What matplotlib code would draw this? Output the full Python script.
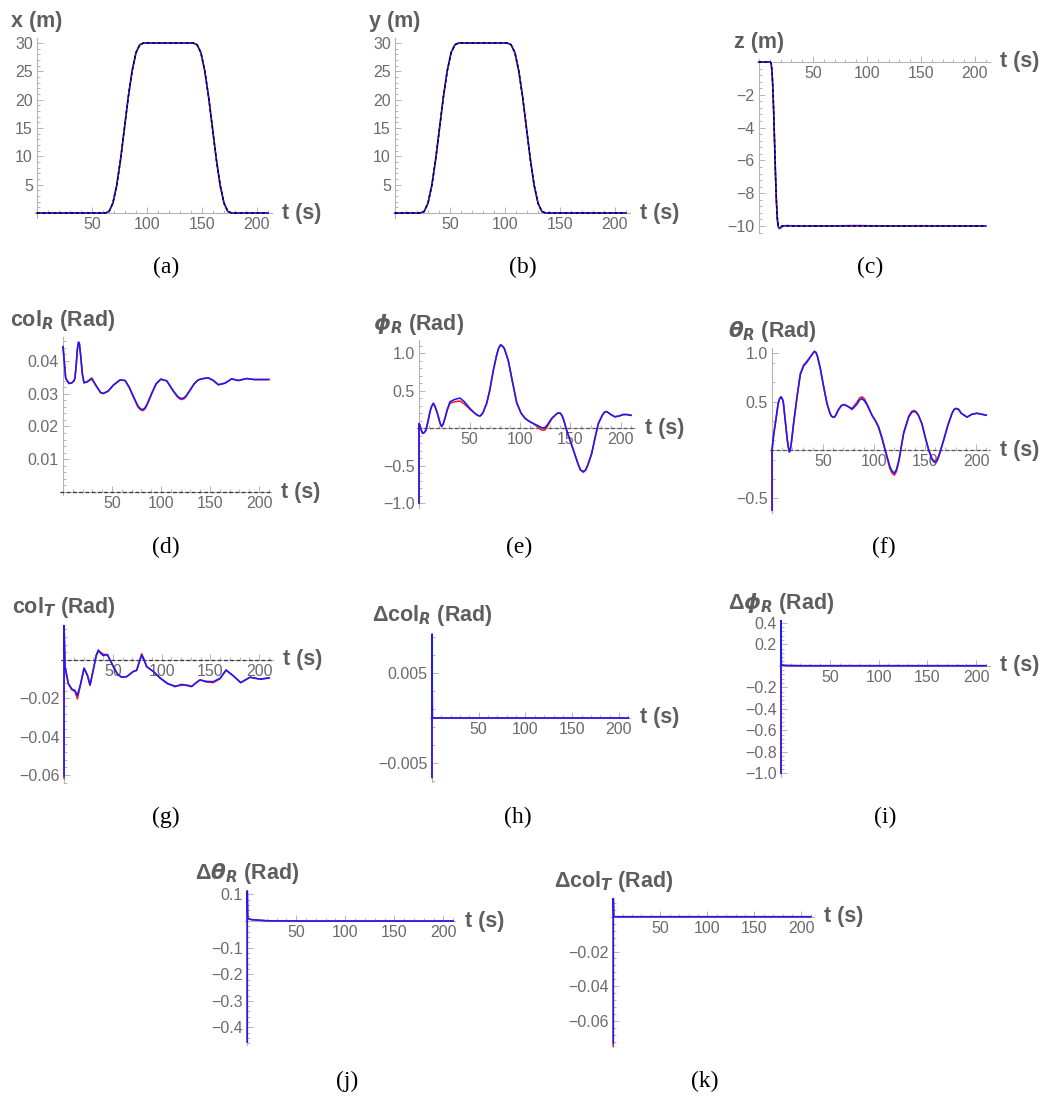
import matplotlib
matplotlib.use("Agg")
import matplotlib.pyplot as plt
from matplotlib.ticker import FixedLocator, AutoMinorLocator, FuncFormatter

# ---------------- data ----------------
x_ticks = [50, 100, 150, 200]

# (a) x position
t_a = [0, 20, 40, 62, 65.5, 69, 72.5, 76, 79.5, 83, 86.5, 90, 93.5, 97, 120,
       142, 145.5, 149, 152.5, 156, 159.5, 163, 166.5, 170, 173.5, 177, 195, 210]
x_a = [0, 0, 0, 0, 0.26, 1.74, 4.9, 9.5, 15, 20.5, 25.1, 28.3, 29.7, 30, 30,
       30, 29.7, 28.3, 25.1, 20.5, 15, 9.5, 4.9, 1.74, 0.26, 0, 0, 0]

# (b) y position
t_b = [0, 12, 23, 26.5, 30, 33.5, 37, 40.5, 44, 47.5, 51, 54.5, 58, 80,
       102, 105.5, 109, 112.5, 116, 119.5, 123, 126.5, 130, 133.5, 137, 160, 185, 210]
y_b = [0, 0, 0, 0.26, 1.74, 4.9, 9.5, 15, 20.5, 25.1, 28.3, 29.7, 30, 30,
       30, 29.7, 28.3, 25.1, 20.5, 15, 9.5, 4.9, 1.74, 0.26, 0, 0, 0, 0]

# (c) z position
t_c_ref = [0, 10.5, 11.3, 12.1, 12.9, 13.7, 14.5, 15.3, 16.1, 16.9, 17.7, 18.5, 40, 80, 120, 160, 210]
z_c_ref = [0, 0, -0.09, -0.58, -1.63, -3.17, -5.0, -6.83, -8.37, -9.42, -9.91, -10, -10, -10, -10, -10, -10]
t_c = [0, 10.5, 11.3, 12.1, 12.9, 13.7, 14.5, 15.3, 16.1, 16.9, 17.7, 18.5,
       19.3, 20.2, 21.5, 23, 26, 40, 60, 90, 120, 150, 180, 210]
z_c_blue = [0, 0, -0.1, -0.6, -1.65, -3.2, -5.0, -6.85, -8.4, -9.5, -10.0, -10.12,
            -10.15, -10.1, -10.03, -9.99, -9.98, -10.0, -10.0, -9.99, -10.0, -10.0, -10.0, -10.0]
z_c_red = [0, 0, -0.1, -0.6, -1.65, -3.2, -5.0, -6.85, -8.4, -9.5, -10.0, -10.12,
           -10.15, -10.1, -10.03, -9.99, -9.98, -10.0, -10.0, -9.97, -10.0, -9.98, -10.0, -10.0]

# (d) col_R
t_d = [0, 2.7, 6.1, 9, 11.2, 12.2, 13.5, 14.6, 15.8, 16.7, 18.2, 19.7, 21.4, 24.8, 29.3,
       34.4, 38.5, 41.2, 46, 51.4, 58.2, 63.3, 67.5, 71.7, 76.5, 79, 81.3, 83.5, 85.8, 90.5,
       95, 99.7, 105.8, 112.6, 116.8, 119, 121.1, 123.2, 125.3, 129.6, 133.8, 138, 143,
       148.3, 153.4, 158.5, 165.3, 172.1, 178.9, 187.4, 195, 210]
col_r_blue = [0.0443, 0.0347, 0.0331, 0.0333, 0.0339, 0.0348, 0.0390, 0.0435, 0.0457, 0.0452,
              0.0410, 0.0360, 0.0333, 0.0336, 0.0345, 0.0321, 0.0303, 0.0301, 0.0308, 0.0326,
              0.0342, 0.0340, 0.0320, 0.0292, 0.0262, 0.0254, 0.0251, 0.0256, 0.0268, 0.0301,
              0.0330, 0.0344, 0.0339, 0.0308, 0.0292, 0.0287, 0.0285, 0.0287, 0.0292, 0.0311,
              0.0330, 0.0342, 0.0346, 0.0348, 0.0340, 0.0327, 0.0332, 0.0345, 0.0340, 0.0346,
              0.0343, 0.0343]
col_r_red = [0.0443, 0.0347, 0.0331, 0.0333, 0.0339, 0.0348, 0.0390, 0.0435, 0.0457, 0.0452,
             0.0410, 0.0360, 0.0333, 0.0337, 0.0348, 0.0321, 0.0302, 0.0300, 0.0307, 0.0326,
             0.0342, 0.0340, 0.0319, 0.0290, 0.0259, 0.0251, 0.0248, 0.0253, 0.0266, 0.0300,
             0.0330, 0.0344, 0.0339, 0.0307, 0.0290, 0.0284, 0.0282, 0.0284, 0.0290, 0.0310,
             0.0330, 0.0342, 0.0346, 0.0348, 0.0340, 0.0327, 0.0332, 0.0345, 0.0340, 0.0346,
             0.0343, 0.0343]

# (e) phi_R
t_e = [0, 0, 0.5, 2, 3.6, 5.2, 6.9, 8.9, 10.9, 12.5, 14.2, 15.8, 18.1, 21, 22.4, 23.8,
       25.7, 28, 30.7, 35, 40.6, 45, 50.5, 55, 58, 60.4, 62, 63.5, 67, 70, 73.6, 77, 79,
       80.9, 82.8, 84.5, 88.4, 92.5, 96.7, 101, 105, 109, 113.2, 118, 120.5, 123.1, 125,
       127, 131.4, 135.5, 137.5, 139.6, 141.5, 143, 146.2, 149.5, 152.8, 157.5, 160, 162.7,
       165, 167, 171, 174.5, 177.6, 181.5, 183.5, 185.8, 188, 190, 194, 198, 202.3, 206, 210]
phi_r_blue = [-1.0, 0.06, 0.05, -0.02, -0.07, -0.06, -0.03, 0.09, 0.22, 0.29,
              0.33, 0.29, 0.20, 0.06, 0.02, 0.05, 0.13, 0.25, 0.35, 0.38,
              0.40, 0.35, 0.26, 0.2, 0.17, 0.16, 0.18, 0.21, 0.33, 0.5,
              0.77, 0.98, 1.07, 1.11, 1.09, 1.06, 0.9, 0.62, 0.34, 0.2,
              0.13, 0.09, 0.06, 0.03, 0.01, 0.0, 0.01, 0.04, 0.13, 0.18,
              0.2, 0.2, 0.17, 0.12, -0.03, -0.16, -0.29, -0.48, -0.56, -0.58,
              -0.56, -0.5, -0.34, -0.12, 0.06, 0.17, 0.21, 0.22, 0.2, 0.18,
              0.15, 0.16, 0.18, 0.18, 0.17]
phi_r_red = [-1.0, 0.06, 0.05, -0.02, -0.07, -0.06, -0.03, 0.09, 0.22, 0.29,
             0.33, 0.29, 0.20, 0.06, 0.02, 0.05, 0.13, 0.24, 0.33, 0.35,
             0.36, 0.32, 0.25, 0.2, 0.17, 0.16, 0.18, 0.21, 0.33, 0.5,
             0.77, 0.98, 1.07, 1.11, 1.09, 1.06, 0.9, 0.62, 0.34, 0.2,
             0.13, 0.09, 0.06, 0.01, -0.02, -0.03, -0.02, 0.02, 0.12, 0.18,
             0.2, 0.2, 0.17, 0.12, -0.03, -0.16, -0.29, -0.48, -0.56, -0.59,
             -0.56, -0.5, -0.34, -0.12, 0.06, 0.17, 0.21, 0.22, 0.2, 0.18,
             0.15, 0.16, 0.18, 0.18, 0.17]

# (f) theta_R
t_f = [0, 0, 1.5, 3.3, 6, 7.4, 8.8, 10, 11, 13, 15, 16, 17, 18, 19, 21.2, 24.5, 27.7, 31,
       34.3, 38, 40, 41.5, 43, 44.5, 47.4, 50.5, 53.9, 56.8, 58.3, 59.8, 61.2, 62.5, 65.3,
       68, 70.9, 74.5, 78.4, 83, 86, 88.2, 90.5, 93, 98, 101.5, 104.5, 108, 111, 115.5,
       117.8, 119.9, 122, 124.5, 129, 134, 137, 139.5, 141.5, 143.5, 147, 150.5, 153.6, 157,
       158.5, 160.1, 162, 164, 168.2, 172.5, 176.5, 178.5, 180.7, 183, 185.5, 191.2, 196,
       201, 205.5, 210]
theta_r_blue = [-0.62, 0.0, 0.15, 0.28, 0.48, 0.53, 0.55, 0.53, 0.5, 0.3,
                0.1, 0.03, -0.02, 0.01, 0.08, 0.28, 0.55, 0.78, 0.87, 0.91,
                0.97, 1.0, 1.02, 1.01, 0.97, 0.84, 0.66, 0.48, 0.38, 0.35,
                0.34, 0.34, 0.36, 0.42, 0.46, 0.47, 0.45, 0.42, 0.47, 0.52,
                0.53, 0.51, 0.47, 0.36, 0.3, 0.24, 0.12, 0.0, -0.17, -0.22,
                -0.24, -0.2, -0.1, 0.17, 0.34, 0.39, 0.4, 0.39, 0.36, 0.27,
                0.12, 0.0, -0.1, -0.12, -0.13, -0.11, -0.05, 0.1, 0.26, 0.38,
                0.42, 0.43, 0.42, 0.38, 0.34, 0.37, 0.38, 0.37, 0.36]
theta_r_red = [-0.62, 0.0, 0.15, 0.28, 0.48, 0.53, 0.55, 0.53, 0.5, 0.3,
               0.1, 0.03, -0.02, 0.01, 0.08, 0.28, 0.55, 0.79, 0.88, 0.92,
               0.97, 1.0, 1.02, 1.01, 0.97, 0.84, 0.66, 0.48, 0.38, 0.35,
               0.34, 0.34, 0.36, 0.42, 0.46, 0.47, 0.45, 0.43, 0.49, 0.54,
               0.55, 0.53, 0.48, 0.36, 0.3, 0.23, 0.11, -0.01, -0.19, -0.24,
               -0.26, -0.22, -0.11, 0.18, 0.35, 0.4, 0.41, 0.39, 0.36, 0.27,
               0.12, 0.0, -0.09, -0.11, -0.11, -0.09, -0.04, 0.1, 0.26, 0.38,
               0.42, 0.43, 0.42, 0.38, 0.34, 0.37, 0.38, 0.37, 0.36]

# (g) col_T
t_g = [0, 0, 1, 4.4, 7.9, 11.3, 13.7, 17.1, 20.5, 23.9, 26.6, 30, 33, 35.2, 37.5, 40.3,
       44.4, 50.5, 55, 59.1, 64.2, 71, 74.4, 77.5, 79.6, 82, 84.7, 91.5, 98.4, 106, 113.7,
       120.6, 125.5, 130.8, 135, 139.3, 146, 153, 159.8, 166, 173.5, 181, 190.6, 200.8, 210]
col_t_blue = [-0.0605, 0.0183, -0.0035, -0.0122, -0.0151, -0.016, -0.0185, -0.0122, -0.0043, -0.0078,
              -0.013, -0.0052, 0.0025, 0.0052, 0.0035, 0.0022, 0.0029, -0.0035, -0.0075, -0.009,
              -0.0087, -0.006, -0.0055, -0.0005, 0.0026, 0.0, -0.0035, -0.006, -0.0094, -0.0122,
              -0.0139, -0.0127, -0.0133, -0.0139, -0.012, -0.0104, -0.0112, -0.0113, -0.0096, -0.0052,
              -0.0083, -0.0118, -0.009, -0.01, -0.0094]
col_t_red = [-0.0617, 0.0183, -0.0035, -0.0125, -0.0155, -0.0165, -0.0203, -0.0125, -0.0043, -0.0080,
             -0.0132, -0.0050, 0.0022, 0.0045, 0.0040, 0.0030, 0.0027, -0.0033, -0.0075, -0.009,
             -0.0087, -0.006, -0.0053, -0.0002, 0.0032, 0.0003, -0.0035, -0.006, -0.0094, -0.0124,
             -0.0136, -0.0132, -0.0130, -0.0137, -0.012, -0.0104, -0.0115, -0.0118, -0.0098, -0.0054,
             -0.0083, -0.0118, -0.009, -0.01, -0.0094]

# (h)-(k) control increments
t_delta = [0, 0, 0.4, 1.5, 5, 20, 50, 80, 110, 140, 170, 210]
dcol_r = [-0.0066, 0.0093, 0.0001, 0.0, 0.0, 0.0, 0.0, 0.0, 0.0, 0.0, 0.0, 0.0]
dphi_r = [-1.0, 0.42, 0.01, 0.005, 0.002, 0.0, 0.0, 0.0, 0.0, 0.0, 0.0, 0.0]
dtheta_r = [-0.455, 0.113, 0.012, 0.008, 0.005, 0.001, 0.0, 0.0, 0.0, 0.0, 0.0, 0.0]
dcol_t_blue = [-0.0728, 0.0106, 0.0, 0.0, 0.0, 0.0, 0.0, 0.0, 0.0, 0.0, 0.0, 0.0]
dcol_t_red = [-0.0745, 0.0106, 0.0, 0.0, 0.0, 0.0, 0.0, 0.0, 0.0, 0.0, 0.0, 0.0]

# ---------------- style ----------------
plt.rcParams['font.family'] = ['Liberation Sans', 'DejaVu Sans']
plt.rcParams['mathtext.fontset'] = 'custom'
plt.rcParams['mathtext.rm'] = 'Liberation Sans:bold'
plt.rcParams['mathtext.it'] = 'DejaVu Sans:italic:bold'
plt.rcParams['mathtext.bf'] = 'Liberation Sans:bold'
plt.rcParams['lines.solid_joinstyle'] = 'round'

W, H = 1043, 1099
fig = plt.figure(figsize=(W / 100, H / 100), dpi=100)

TICK_GRAY = '#6b6b6b'
LABEL_GRAY = '#5e5e5e'
AXIS_GRAY = '#b4b4b4'
BLUE = '#1a1aff'
RED = '#ff1a1a'
LW = 1.15


def panel(box, xlim, ylim, yticks, ydec, ylabel, caption, cap_xy):
    # box in pixels: left, top, right, bottom
    left, top, right, bottom = box
    ax = fig.add_axes([left / W, 1 - bottom / H, (right - left) / W, (bottom - top) / H])
    ax.set_xlim(*xlim)
    ax.set_ylim(*ylim)
    ax.patch.set_visible(False)
    for s in ('top', 'right'):
        ax.spines[s].set_visible(False)
    for s in ('left', 'bottom'):
        ax.spines[s].set_position(('data', 0))
        ax.spines[s].set_color(AXIS_GRAY)
        ax.spines[s].set_linewidth(0.8)
    ax.xaxis.set_major_locator(FixedLocator(x_ticks))
    ax.xaxis.set_major_formatter(FuncFormatter(lambda v, p: f"{v:.0f}"))
    ax.xaxis.set_minor_locator(AutoMinorLocator(5))
    ax.yaxis.set_major_locator(FixedLocator(yticks))
    ax.yaxis.set_major_formatter(
        FuncFormatter(lambda v, p, d=ydec: f"{v:.{d}f}".replace('-', '\u2212')))
    ax.yaxis.set_minor_locator(AutoMinorLocator(5))
    ax.tick_params(which='both', direction='in', color=AXIS_GRAY, width=0.7,
                   labelcolor=TICK_GRAY, labelsize=11.5, pad=3)
    ax.tick_params(which='major', length=4)
    ax.tick_params(which='minor', length=2)
    ax.annotate('t (s)', xy=(1, 0), xycoords=ax.get_yaxis_transform(),
                xytext=(7, 0), textcoords='offset points', ha='left', va='center',
                fontsize=15.5, fontweight='bold', color=LABEL_GRAY, annotation_clip=False)
    ax.annotate(ylabel, xy=(0, 1), xycoords=ax.get_xaxis_transform(),
                xytext=(0, 12), textcoords='offset points', ha='center', va='center',
                fontsize=15.5, fontweight='bold', color=LABEL_GRAY, annotation_clip=False)
    fig.text(cap_xy[0] / W, 1 - cap_xy[1] / H, caption, ha='center', va='center',
             family='Liberation Serif', fontsize=17, color='black')
    return ax


def curves(ax, t, red, blue, t_ref=None, ref=None):
    ax.plot(t, red, color=RED, lw=LW, zorder=3)
    ax.plot(t, blue, color=BLUE, lw=LW, zorder=4)
    if ref is not None:
        ax.plot(t_ref, ref, color='black', lw=1.0, ls=(0, (2, 2)), zorder=5)


def zero_line(ax, color):
    ax.axhline(0, color=color, lw=0.9, ls=(0, (3, 2)), zorder=2.6)


# (a)
ax = panel((34.8, 37.9, 272.4, 218.1), (-2, 214), (-0.9, 30.9), [5, 10, 15, 20, 25, 30], 0,
           'x (m)', '(a)', (166, 267))
curves(ax, t_a, x_a, x_a, t_a, x_a)

# (b)
ax = panel((392.8, 37.9, 630.4, 218.1), (-2, 214), (-0.9, 30.9), [5, 10, 15, 20, 25, 30], 0,
           'y (m)', '(b)', (523, 267))
curves(ax, t_b, y_b, y_b, t_b, y_b)

# (c)
ax = panel((756.8, 58.7, 990.1, 233.4), (-2, 214), (-10.45, 0.2), [-10, -8, -6, -4, -2], 0,
           'z (m)', '(c)', (870, 267))
curves(ax, t_c, z_c_red, z_c_blue, t_c_ref, z_c_ref)

# (d)
ax = panel((60.1, 336.9, 270.8, 495.3), (-3, 212), (-0.001, 0.0473), [0.01, 0.02, 0.03, 0.04], 2,
           r'col$_{R}$ (Rad)', '(d)', (166, 547))
zero_line(ax, '#333333')
curves(ax, t_d, col_r_red, col_r_blue)

# (e)
ax = panel((417, 340.3, 635.1, 508.3), (-2, 214), (-1.07, 1.17), [-1.0, -0.5, 0.5, 1.0], 1,
           r'$\phi_{R}$ (Rad)', '(e)', (519, 547))
zero_line(ax, '#555555')
curves(ax, t_e, phi_r_red, phi_r_blue)

# (f)
ax = panel((770, 348, 990.3, 512.9), (-2, 214), (-0.65, 1.055), [-0.5, 0.5, 1.0], 1,
           r'$\theta_{R}$ (Rad)', '(f)', (884, 547))
zero_line(ax, '#555555')
curves(ax, t_f, theta_r_red, theta_r_blue)

# (g)
ax = panel((61.1, 624.5, 272.9, 782.7), (-3, 214), (-0.064, 0.0185), [-0.06, -0.04, -0.02], 2,
           r'col$_{T}$ (Rad)', '(g)', (166, 817))
zero_line(ax, '#333333')
curves(ax, t_g, col_t_red, col_t_blue)

# (h)
ax = panel((430.1, 632.5, 630.2, 781.9), (-2, 212), (-0.0071, 0.0095), [-0.005, 0.005], 3,
           r'Δcol$_{R}$ (Rad)', '(h)', (518, 817))
curves(ax, t_delta, dcol_r, dcol_r)

# (i)
ax = panel((779, 620, 989.9, 776.5), (-2, 214), (-1.03, 0.425),
           [-1.0, -0.8, -0.6, -0.4, -0.2, 0.2, 0.4], 1,
           r'Δ$\phi_{R}$ (Rad)', '(i)', (885, 817))
curves(ax, t_delta, dphi_r, dphi_r)

# (j)
ax = panel((245.3, 889.9, 455.1, 1045), (-2, 212), (-0.466, 0.117),
           [-0.4, -0.3, -0.2, -0.1, 0.1], 1,
           r'Δ$\theta_{R}$ (Rad)', '(j)', (347, 1081))
curves(ax, t_delta, dtheta_r, dtheta_r)

# (k)
ax = panel((611.4, 898.1, 814.5, 1046.7), (-2, 214), (-0.0747, 0.0107), [-0.06, -0.04, -0.02], 2,
           r'Δcol$_{T}$ (Rad)', '(k)', (705, 1081))
curves(ax, t_delta, dcol_t_red, dcol_t_blue)

fig.savefig('out.png', dpi=100, facecolor='white')
